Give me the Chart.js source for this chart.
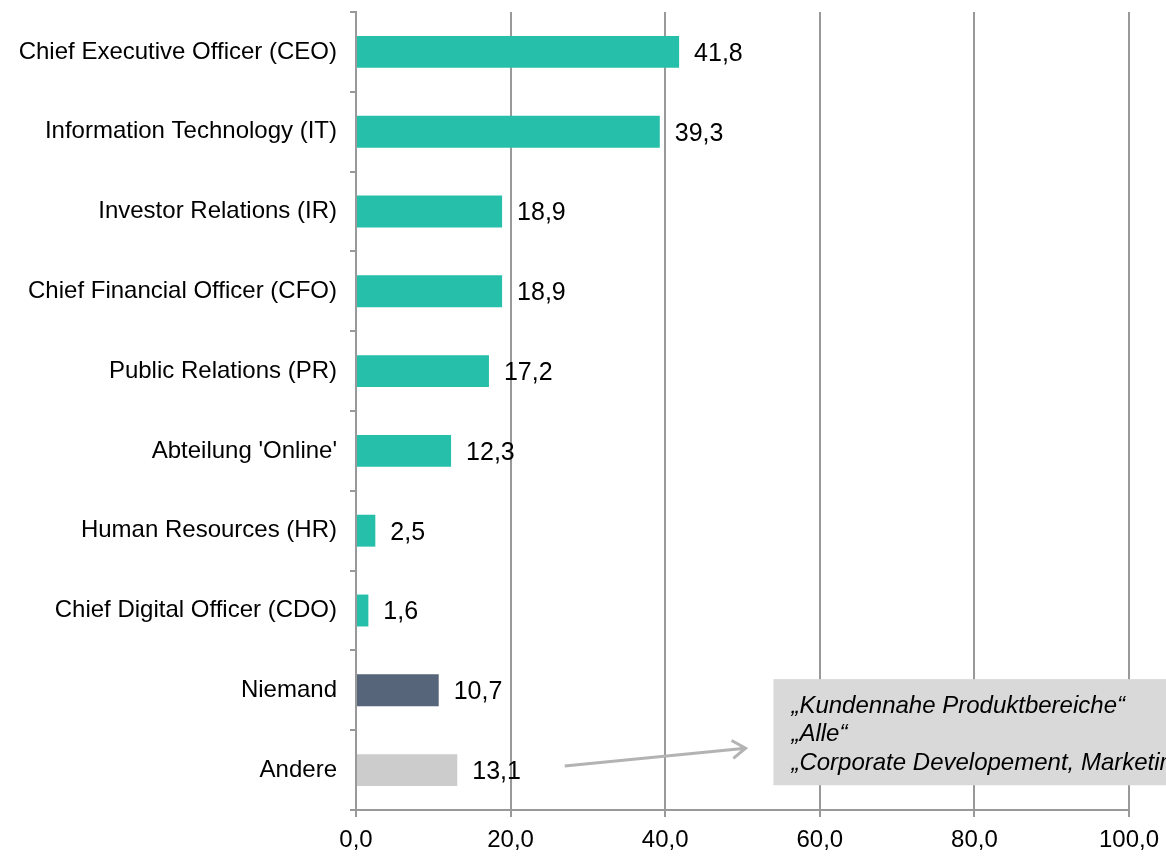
<!DOCTYPE html>
<html>
<head>
<meta charset="utf-8">
<script src="https://cdn.jsdelivr.net/npm/chart.js@4/dist/chart.umd.min.js"></script>
<style>
  html, body { margin: 0; padding: 0; background: #fff; }
  #wrap { width: 1166px; height: 857px; }
</style>
</head>
<body>
<div id="wrap"><canvas id="chart" width="1166" height="857"></canvas></div>
<script>
// --- Data ---
const categories = [
    'Chief Executive Officer (CEO)',
    'Information Technology (IT)',
    'Investor Relations (IR)',
    'Chief Financial Officer (CFO)',
    'Public Relations (PR)',
    "Abteilung 'Online'",
    'Human Resources (HR)',
    'Chief Digital Officer (CDO)',
    'Niemand',
    'Andere'
];
const values = [41.8, 39.3, 18.9, 18.9, 17.2, 12.3, 2.5, 1.6, 10.7, 13.1];
const barColors = ['#26bfaa', '#26bfaa', '#26bfaa', '#26bfaa', '#26bfaa', '#26bfaa', '#26bfaa', '#26bfaa', '#566579', '#cccccc'];
const xTicks = [0, 20, 40, 60, 80, 100];
const noteLines = ['\u201EKundennahe Produktbereiche\u201C', '\u201EAlle\u201C', '\u201ECorporate Developement, Marketing\u201C'];

const fmt = v => v.toFixed(1).replace('.', ',');
const FONT = "'Liberation Sans', Arial, sans-serif";
const GRID = '#999999';

// --- Plugins ---
const valueLabels = {
    id: 'valueLabels',
    afterDatasetsDraw(chart) {
        const ctx = chart.ctx;
        const meta = chart.getDatasetMeta(0);
        ctx.save();
        ctx.font = `25px ${FONT}`;
        ctx.fillStyle = '#000';
        ctx.textBaseline = 'middle';
        ctx.textAlign = 'left';
        meta.data.forEach((bar, i) => {
            ctx.fillText(fmt(values[i]), bar.x + 15, bar.y + 2);
        });
        ctx.restore();
    }
};

// note box + arrow next to "Andere"
const noteBox = {
    id: 'noteBox',
    afterDraw(chart) {
        const ctx = chart.ctx;
        const xs = chart.scales.x, ys = chart.scales.y;
        const step = ys.getPixelForValue(1) - ys.getPixelForValue(0);
        const yAt = f => ys.getPixelForValue(0) + f * step;

        // arrow
        const x1 = xs.getPixelForValue(27), y1 = yAt(8.95);
        const x2 = xs.getPixelForValue(50.4), y2 = yAt(8.725);
        ctx.save();
        ctx.strokeStyle = '#b3b3b3';
        ctx.lineWidth = 3;
        ctx.beginPath();
        ctx.moveTo(x1, y1);
        ctx.lineTo(x2, y2);
        const ang = Math.atan2(y2 - y1, x2 - x1);
        const h = 16;
        ctx.moveTo(x2 - h * Math.cos(ang - 0.6), y2 - h * Math.sin(ang - 0.6));
        ctx.lineTo(x2, y2);
        ctx.lineTo(x2 - h * Math.cos(ang + 0.6), y2 - h * Math.sin(ang + 0.6));
        ctx.stroke();

        // box
        const bx = xs.getPixelForValue(54);
        const by = yAt(7.86), bb = yAt(9.19);
        ctx.fillStyle = '#d9d9d9';
        ctx.fillRect(bx, by, chart.width - bx, bb - by);
        ctx.fillStyle = '#000';
        ctx.font = `italic 24px ${FONT}`;
        ctx.textBaseline = 'middle';
        ctx.textAlign = 'left';
        noteLines.forEach((t, i) => {
            ctx.fillText(t, bx + 18, by + 27 + i * 28.5);
        });
        ctx.restore();
    }
};

// --- Chart ---
new Chart(document.getElementById('chart').getContext('2d'), {
    type: 'bar',
    data: {
        labels: categories,
        datasets: [{
            data: values,
            backgroundColor: barColors,
            borderWidth: 0,
            barPercentage: 0.8,
            categoryPercentage: 0.5
        }]
    },
    options: {
        indexAxis: 'y',
        responsive: false,
        animation: false,
        layout: { padding: { top: 12, right: 37, left: 0, bottom: 0 } },
        scales: {
            x: {
                min: 0,
                max: 100,
                afterBuildTicks: s => { s.ticks = xTicks.map(v => ({ value: v })); },
                afterFit: s => { s.height = 47; s.paddingLeft = 0; s.paddingRight = 0; },
                grid: { color: GRID, lineWidth: 2, tickLength: 7, drawTicks: true },
                border: { color: GRID, width: 2 },
                ticks: {
                    color: '#000',
                    padding: 9,
                    font: { family: FONT, size: 24 },
                    callback: v => fmt(v)
                }
            },
            y: {
                afterFit: s => { s.width = 356; s.paddingTop = 0; s.paddingBottom = 0; },
                grid: { display: true, drawOnChartArea: false, color: GRID, lineWidth: 2, tickLength: 6, offset: true },
                border: { color: GRID, width: 2 },
                ticks: {
                    color: '#000',
                    padding: 13,
                    font: { family: FONT, size: 24 }
                }
            }
        },
        plugins: {
            legend: { display: false },
            tooltip: { enabled: false }
        }
    },
    plugins: [valueLabels, noteBox]
});
</script>
</body>
</html>
